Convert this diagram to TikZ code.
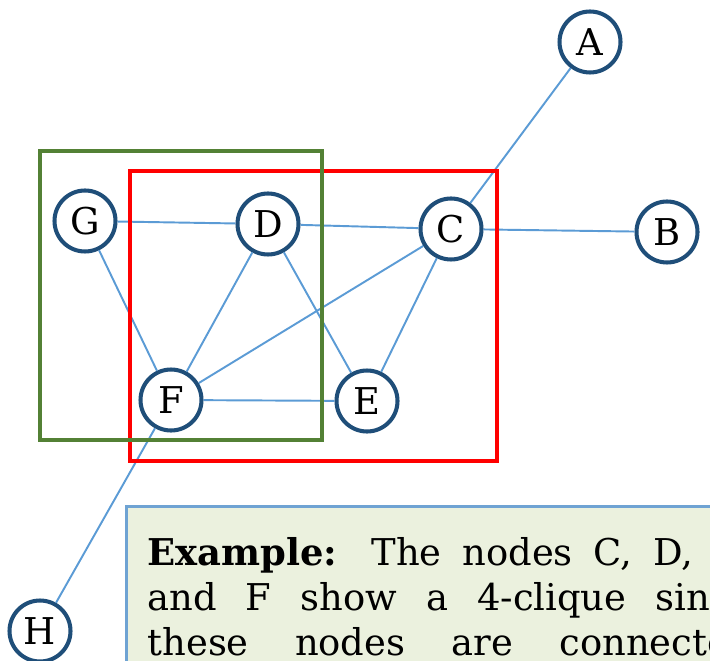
\documentclass[tikz,border=0pt]{standalone}
\usepackage{fontspec}
\setmainfont{DejaVu Serif}
\usepackage{xcolor}
\usetikzlibrary{positioning}
\definecolor{nodeblue}{HTML}{1F4E79}
\definecolor{edgeblue}{HTML}{5B9BD5}
\definecolor{boxgreen}{HTML}{538135}
\definecolor{noteborder}{HTML}{6FA3D3}
\definecolor{notefill}{HTML}{EBF1DE}
\tikzset{
  graphnode/.style={circle,draw=nodeblue,fill=white,line width=2.3pt,
    minimum size=12.2mm,inner sep=0pt,font=\fontsize{21}{21}\selectfont},
  graphedge/.style={draw=edgeblue,line width=1.1pt},
  cliquebox/.style={line width=2.3pt},
  notebox/.style={draw=noteborder,fill=notefill,line width=1.8pt,anchor=north west,
    align=justify,inner xsep=4.2mm,inner ysep=6.2mm,text width=121mm,minimum height=40mm,
    font=\fontsize{21}{25.6}\selectfont}
}
\begin{document}
\begin{tikzpicture}[x=0.2mm,y=-0.2mm]
  \useasboundingbox (0,0) rectangle (710,661);
  % vertices
  \node[graphnode] (a) at (590,42) {A};
  \node[graphnode] (g) at (85,221) {G};
  \node[graphnode] (d) at (268,224) {D};
  \node[graphnode] (c) at (451,229) {C};
  \node[graphnode] (b) at (667,232) {B};
  \node[graphnode] (f) at (171,400) {F};
  \node[graphnode] (e) at (367,401) {E};
  \node[graphnode] (h) at (40,631) {H};
  % edges
  \foreach \u/\v in {a/c,c/b,g/d,d/c,g/f,d/f,d/e,c/f,c/e,f/e,f/h}
    \draw[graphedge] (\u) -- (\v);
  % clique frames
  \draw[cliquebox,draw=red] (130,171) rectangle (497,461);
  \draw[cliquebox,draw=boxgreen] (40,151) rectangle (322,440);
  % explanation
  \node[notebox] (note) at (125,505) {\textbf{Example:} The nodes C, D, E,\linebreak
    and F show a 4-clique since\linebreak
    these nodes are connected\linebreak to each other.};
\end{tikzpicture}
\end{document}
